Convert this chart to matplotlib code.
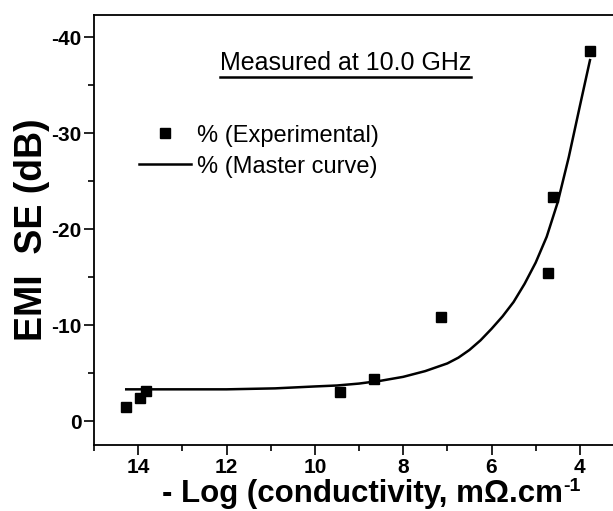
import matplotlib
matplotlib.use("Agg")
import matplotlib.pyplot as plt
from matplotlib.lines import Line2D
from matplotlib.ticker import MultipleLocator

plt.rcParams['font.family'] = ['Liberation Sans', 'DejaVu Sans']
plt.rcParams['axes.unicode_minus'] = False

# Experimental points: -log(conductivity) vs EMI SE (dB)
exp_x = [14.27, 13.95, 13.82, 9.42, 8.65, 7.15, 4.73, 4.61, 3.77]
exp_y = [-1.5, -2.4, -3.1, -3.0, -4.4, -10.8, -15.4, -23.3, -38.5]

# Master curve samples
curve_x = [14.27, 13.0, 12.0, 10.9, 10.0, 9.5, 9.0, 8.5, 8.0, 7.5, 7.0,
           6.75, 6.5, 6.25, 6.0, 5.75, 5.5, 5.25, 5.0, 4.75, 4.5, 4.25,
           4.0, 3.77]
curve_y = [-3.3, -3.3, -3.3, -3.4, -3.6, -3.7, -3.9, -4.2, -4.6, -5.2, -6.0,
           -6.6, -7.4, -8.4, -9.6, -10.9, -12.4, -14.3, -16.5, -19.2, -22.8,
           -27.5, -32.8, -37.6]

x_ticks = [14, 12, 10, 8, 6, 4]
y_ticks = [-40, -30, -20, -10, 0]

fig = plt.figure(figsize=(6.13, 5.11), dpi=100)
ax = fig.add_axes([94 / 613, 1 - 445 / 511, 530 / 613, 430 / 511])

ax.plot(exp_x, exp_y, 's', color='black', markersize=7.8, linestyle='none',
        label='% (Experimental)')
ax.plot(curve_x, curve_y, '-', color='black', linewidth=1.8,
        label='% (Master curve)')

ax.set_xlim(15, 3)
ax.set_ylim(2.5, -42.3)
ax.set_xticks(x_ticks)
ax.set_yticks(y_ticks)
ax.xaxis.set_minor_locator(MultipleLocator(1))
ax.yaxis.set_minor_locator(MultipleLocator(5))

ax.spines['right'].set_visible(False)
for s in ['left', 'bottom', 'top']:
    ax.spines[s].set_linewidth(1.3)

ax.tick_params(which='major', direction='out', length=7, width=1.2,
               labelsize=15, top=False, right=False, pad=2)
ax.tick_params(which='minor', direction='out', length=4, width=1.2,
               top=False, right=False)
for lbl in ax.get_xticklabels() + ax.get_yticklabels():
    lbl.set_fontweight('bold')

ax.set_ylabel('EMI  SE (dB)', fontsize=27, fontweight='bold', labelpad=1)
xlab = ax.set_xlabel('- Log (conductivity, m\u03a9.cm', fontsize=22.5,
                     fontweight='bold', va='baseline')
ax.xaxis.set_label_coords(0.506, -0.1325)

leg = ax.legend(loc='upper left', bbox_to_anchor=(0.085, 0.745), frameon=False,
                fontsize=17, handlelength=2.2, handletextpad=0.25,
                labelspacing=0.38, borderpad=0, borderaxespad=0)

title = ax.text(0.474, 0.888, 'Measured at 10.0 GHz', transform=ax.transAxes,
                ha='center', va='center', fontsize=18)

fig.canvas.draw()

# underline below the annotation text
bb = title.get_window_extent()
fig.add_artist(Line2D([bb.x0, bb.x1], [bb.y0 - 2, bb.y0 - 2],
                      transform=None, color='black', linewidth=1.8))

# superscript exponent after the axis label
lb = xlab.get_window_extent()
fig.text(lb.x1 + 1, lb.y1 + 1, '-1', transform=None, fontsize=14,
         fontweight='bold', ha='left', va='top')

fig.savefig('out.png', dpi=100)
